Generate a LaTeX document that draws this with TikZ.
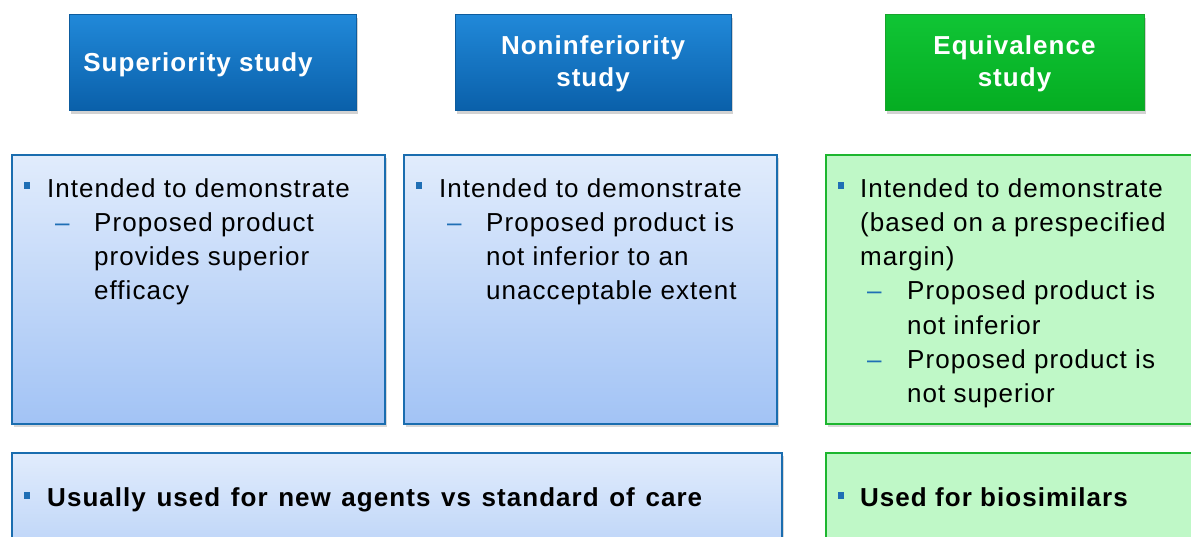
\documentclass[tikz,border=0pt]{standalone}
\usepackage{fontspec}
\setmainfont{Liberation Sans}[LetterSpace=4]
\usetikzlibrary{shadows}
\definecolor{hdrtop}{HTML}{2189D9}
\definecolor{hdrbot}{HTML}{0A60AA}
\definecolor{hdrborder}{HTML}{0D5C9E}
\definecolor{grtop}{HTML}{10C535}
\definecolor{grbot}{HTML}{05AD22}
\definecolor{grborder}{HTML}{18A42C}
\definecolor{lbtop}{HTML}{E1ECFC}
\definecolor{lbbot}{HTML}{A2C3F5}
\definecolor{lbborder}{HTML}{1A6DAF}
\definecolor{lgfill}{HTML}{BFF8C7}
\definecolor{lgborder}{HTML}{1DB62F}
\definecolor{bulletblue}{HTML}{1F6FB5}
\newcommand{\sqb}{\textcolor{bulletblue}{\rule[8pt]{6pt}{7pt}}}
\newcommand{\dsh}{\textcolor{bulletblue}{–}}
\tikzset{
  hdr/.style={rectangle, draw=hdrborder, line width=1pt, top color=hdrtop, bottom color=hdrbot,
    inner sep=0pt,
    drop shadow={shadow xshift=2pt, shadow yshift=-4pt, opacity=0.35}},
  ghdr/.style={hdr, draw=grborder, top color=grtop, bottom color=grbot},
  htxt/.style={text=white, font=\bfseries\fontsize{26}{32}\selectfont, align=center, inner sep=0pt},
  bbox/.style={rectangle, draw=lbborder, line width=2.5pt, top color=lbtop, bottom color=lbbot,
    inner sep=0pt, drop shadow={shadow xshift=1.5pt, shadow yshift=-3pt, opacity=0.3}},
  gbox/.style={rectangle, draw=lgborder, line width=2.5pt, fill=lgfill,
    inner sep=0pt, drop shadow={shadow xshift=1.5pt, shadow yshift=-3pt, opacity=0.3}},
  txt/.style={anchor=north west, inner sep=0pt, align=left, font=\fontsize{26}{34.3}\selectfont},
  btxt/.style={anchor=base west, inner sep=0pt, align=left, font=\bfseries\fontsize{26}{34}\selectfont}
}
\begin{document}
\begin{tikzpicture}[x=1pt,y=-1pt]
\useasboundingbox (0,0) rectangle (1191,536);
\clip (0,0) rectangle (1191,536);
\fill[white] (0,0) rectangle (1191,536);
% headers
\node[hdr, minimum width=287pt, minimum height=96pt] (h1) at (212.5,62) {};
\node[hdr, minimum width=276pt, minimum height=96pt] (h2) at (593,62) {};
\node[ghdr, minimum width=259pt, minimum height=96pt] (h3) at (1014.5,62) {};
\node[htxt] (h1t) at (198,64.5) {Superiority study};
\node[htxt] (h2t) at (593,63.5) {Noninferiority\\study};
\node[htxt] (h3t) at (1014.5,63.5) {Equivalence\\study};
% content boxes
\node[bbox, minimum width=373pt, minimum height=269pt] (b1) at (198.5,289.5) {};
\node[bbox, minimum width=373pt, minimum height=269pt] (b2) at (590.5,289.5) {};
\node[gbox, minimum width=380pt, minimum height=269pt] (b3) at (1016,289.5) {};
% bottom boxes
\node[bbox, minimum width=770pt, minimum height=170pt] (c1) at (397,538) {};
\node[gbox, minimum width=380pt, minimum height=170pt] (c3) at (1016,538) {};
% texts
\node[txt] (t1) at (24,178) {\makebox[23pt][l]{\sqb}Intended to demonstrate\\
\hspace{31pt}\makebox[39pt][l]{\dsh}Proposed product\\
\hspace{70pt}provides superior\\
\hspace{70pt}efficacy};
\node[txt] (t2) at (416,178) {\makebox[23pt][l]{\sqb}Intended to demonstrate\\
\hspace{31pt}\makebox[39pt][l]{\dsh}Proposed product is\\
\hspace{70pt}not inferior to an\\
\hspace{70pt}unacceptable extent};
\node[txt] (t3) at (838,178) {\makebox[22pt][l]{\sqb}Intended to demonstrate\\
\hspace{22pt}(based on a prespecified\\
\hspace{22pt}margin)\\
\hspace{29pt}\makebox[40pt][l]{\dsh}Proposed product is\\
\hspace{69pt}not inferior\\
\hspace{29pt}\makebox[40pt][l]{\dsh}Proposed product is\\
\hspace{69pt}not superior};
\node[btxt] (u1) at (24,506.5) {\makebox[23pt][l]{\sqb}\spaceskip=10.6pt Usually used for new agents vs standard of care};
\node[btxt] (u3) at (838,506.5) {\makebox[22pt][l]{\sqb}Used for biosimilars};
\end{tikzpicture}
\end{document}
